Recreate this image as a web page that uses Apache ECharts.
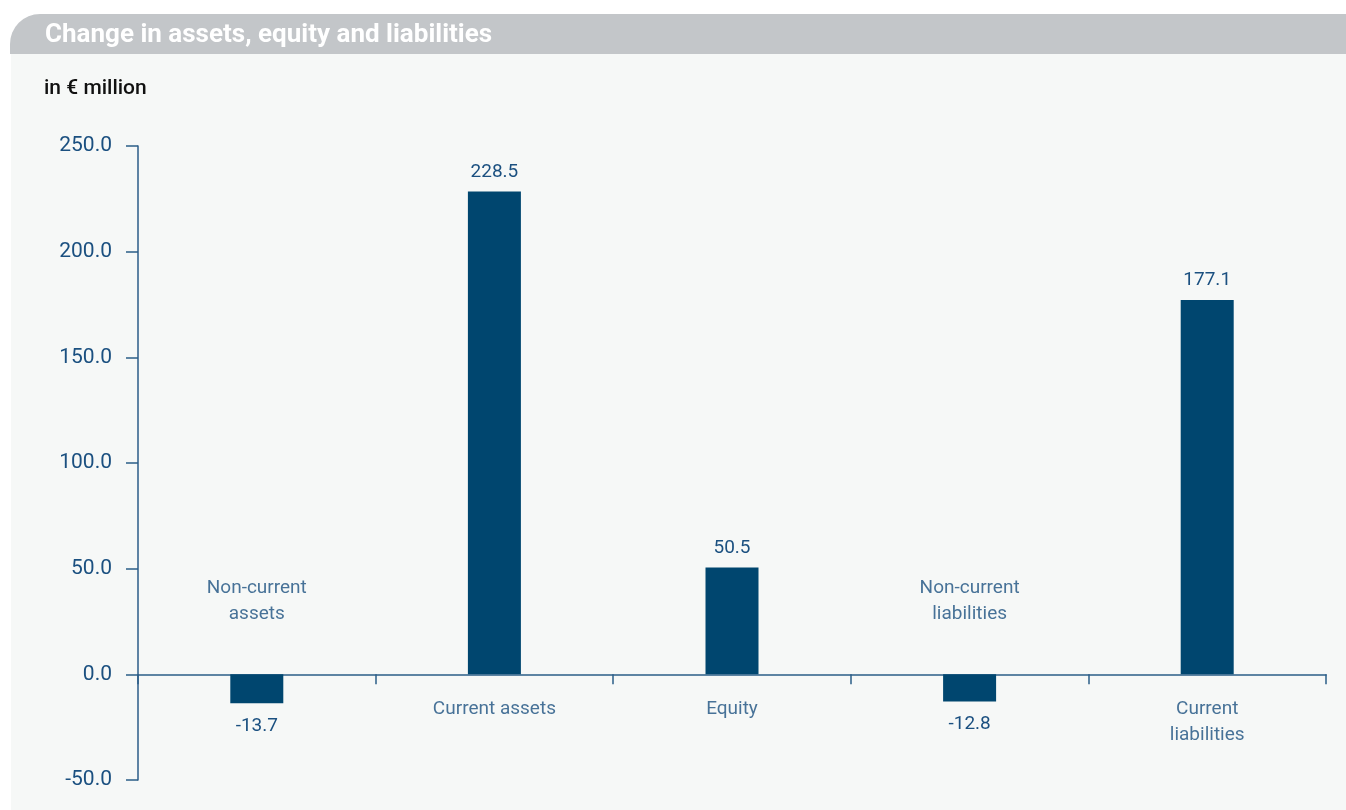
<!DOCTYPE html>
<html>
<head>
<meta charset="utf-8">
<title>Change in assets, equity and liabilities</title>
<script src="https://cdn.jsdelivr.net/npm/echarts@6/dist/echarts.min.js"></script>
<style>
  html, body { margin: 0; padding: 0; background: #ffffff; }
  #chart { width: 1346px; height: 810px; }
</style>
</head>
<body>
<div id="chart"></div>
<script>
// Balance sheet movements, in € million
const categories = ['Non-current assets', 'Current assets', 'Equity', 'Non-current liabilities', 'Current liabilities'];
const categoryLabels = ['Non-current\nassets', 'Current assets', 'Equity', 'Non-current\nliabilities', 'Current\nliabilities'];
const values = [-13.7, 228.5, 50.5, -12.8, 177.1];
const yTicks = [-50, 0, 50, 100, 150, 200, 250];

const TEXT = '#1b5080';
const BAR = '#00466f';
const AXIS = '#2b5d88';
const FONT = 'Roboto, "Noto Sans", sans-serif';

const chart = echarts.init(document.getElementById('chart'), null, { renderer: 'canvas' });

const option = {
  backgroundColor: '#ffffff',
  animation: false,
  graphic: [
    {
      type: 'rect', z: -10, silent: true,
      shape: { x: 11, y: 54, width: 1335, height: 756 },
      style: { fill: '#f6f8f7' }
    },
    {
      type: 'rect', z: -9, silent: true,
      shape: { x: 10, y: 14, width: 1336, height: 40, r: [30, 0, 0, 0] },
      style: { fill: '#c3c6c9' }
    }
  ],
  title: [
    {
      text: 'Change in assets, equity and liabilities',
      left: 45, top: 22, padding: 0,
      textStyle: { color: '#ffffff', fontFamily: FONT, fontSize: 26, fontWeight: 'bold' }
    },
    {
      text: 'in € million',
      left: 44, top: 78, padding: 0,
      textStyle: { color: '#111111', fontFamily: FONT, fontSize: 21, fontWeight: 500 }
    }
  ],
  grid: { left: 138, right: 20, top: 146, bottom: 30, containLabel: false },
  xAxis: {
    type: 'category',
    data: categories,
    boundaryGap: true,
    axisLine: { show: true, onZero: true, lineStyle: { color: AXIS, width: 1.5 } },
    axisTick: { show: true, inside: false, length: 10, alignWithLabel: false, lineStyle: { color: AXIS, width: 1.5 } },
    axisLabel: { show: false },
    splitLine: { show: false }
  },
  yAxis: {
    type: 'value',
    min: yTicks[0],
    max: yTicks[yTicks.length - 1],
    interval: 50,
    axisLine: { show: true, lineStyle: { color: AXIS, width: 1.5 } },
    axisTick: { show: true, inside: false, length: 12, lineStyle: { color: AXIS, width: 1.5 } },
    axisLabel: {
      color: TEXT, fontFamily: FONT, fontSize: 21, margin: 26,
      formatter: v => v.toFixed(1)
    },
    splitLine: { show: false }
  },
  series: [
    {
      type: 'bar',
      data: values.map(v => ({
        value: v,
        label: v < 0 ? { position: 'bottom', distance: 13 } : { position: 'top', distance: 10 }
      })),
      barWidth: 53,
      itemStyle: { color: BAR },
      label: {
        show: true,
        color: TEXT, fontFamily: FONT, fontSize: 19,
        formatter: p => p.value.toFixed(1)
      },
      z: 3
    },
    {
      // anchors for category names, placed above the axis when the bar goes below it
      type: 'scatter',
      data: categories.map((c, i) => ({
        value: [c, 0],
        label: values[i] < 0
          ? { position: 'top', distance: 47 }
          : { position: 'bottom', distance: 21 }
      })),
      symbolSize: 1,
      itemStyle: { color: 'transparent' },
      silent: true,
      label: {
        show: true,
        color: TEXT, fontFamily: FONT, fontSize: 19, lineHeight: 26, align: 'center',
        formatter: p => categoryLabels[p.dataIndex]
      },
      z: 4
    }
  ]
};

chart.setOption(option);
</script>
</body>
</html>
